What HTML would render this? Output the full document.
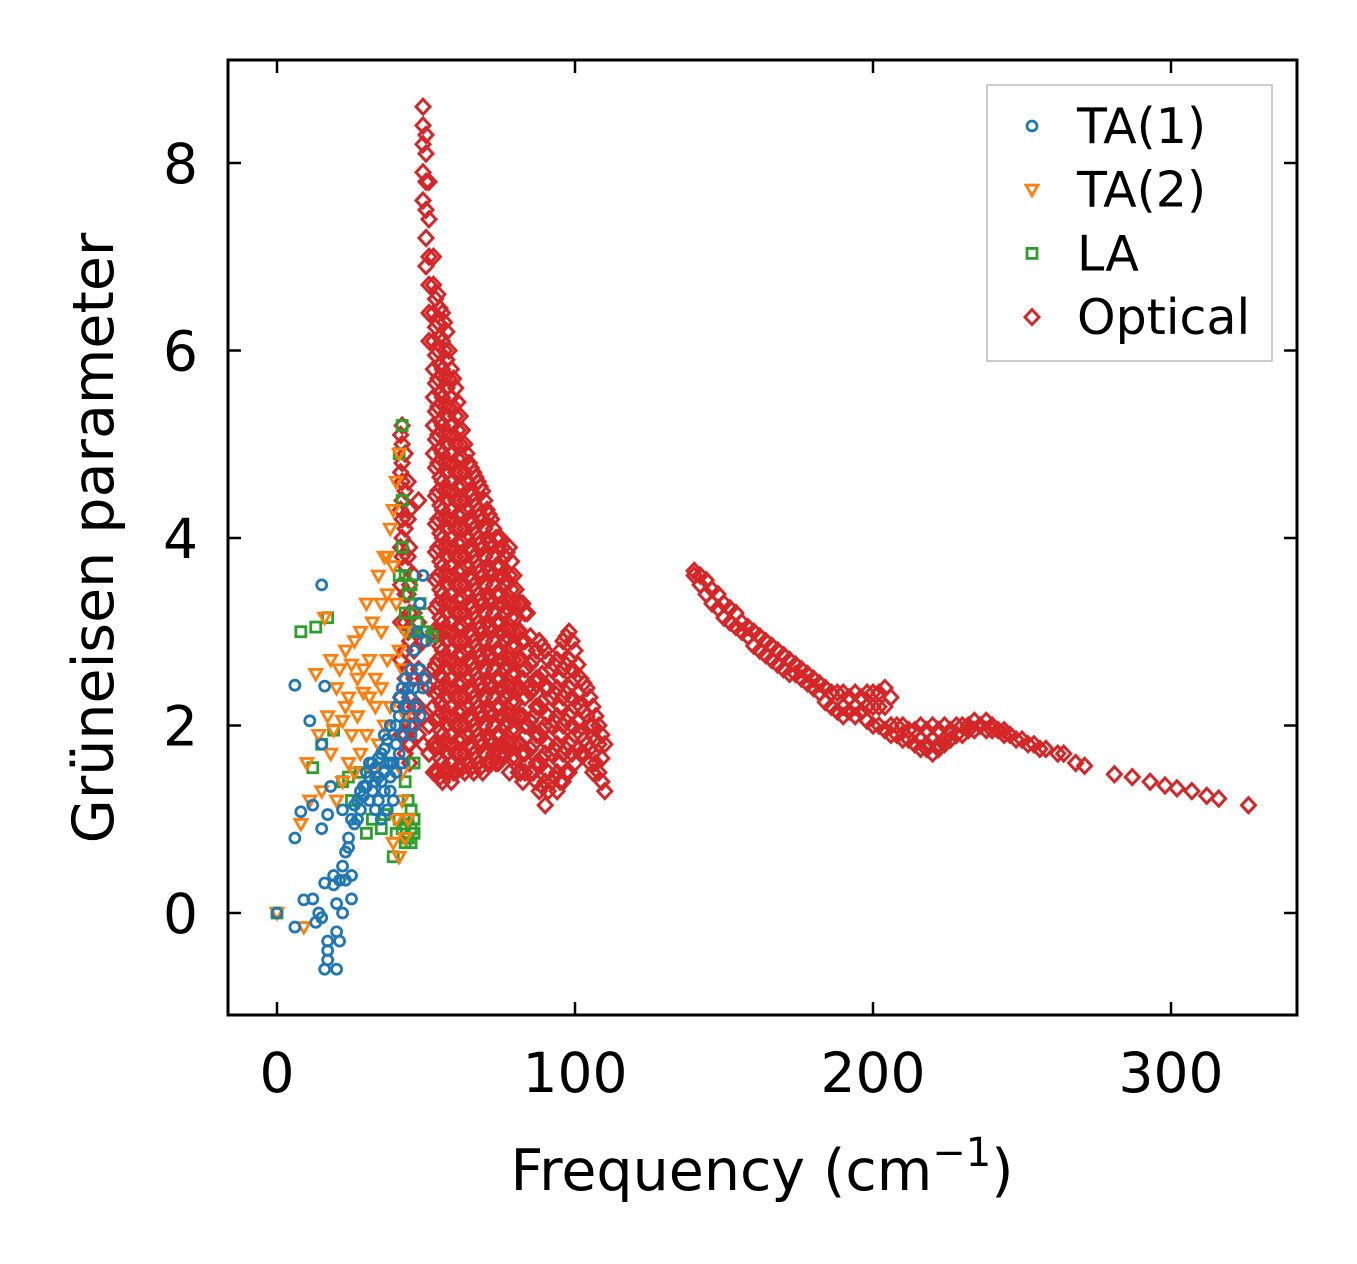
<!DOCTYPE html>
<html><head><meta charset="utf-8"><style>
html,body{margin:0;padding:0;background:#fff;}
svg{display:block;font-family:"DejaVu Sans","Liberation Sans",sans-serif;}
</style></head><body>
<svg id="chart" width="1357" height="1264" viewBox="0 0 1357 1264" xmlns="http://www.w3.org/2000/svg">
<g id="marks"></g>
<g id="axes"></g>
</svg>
<script>
const xTicks = [0, 100, 200, 300];
const yTicks = [0, 2, 4, 6, 8];
const ta1 = [[0,0],[6,-0.15],[6,0.8],[6,2.43],[8,1.08],[9,0.14],[11,2.05],[12,1.15],[12,0.15],[13,-0.1],[14,0],[15,-0.05],[15,3.5],[15,0.9],[15,1.8],[16,2.42],[16,0.32],[16,-0.6],[17,-0.3],[17,-0.4],[17,-0.5],[17,1.05],[18,1.35],[19,0.3],[19,0.4],[20,-0.6],[20,-0.2],[20,0.1],[21,-0.3],[21,0.35],[22,0.5],[22,0.0],[22,1.1],[23,0.65],[23,0.35],[24,0.7],[24,0.8],[25,0.15],[25,0.4],[25,1.0],[26,0.95],[27,1.2],[28,1.3],[29,1.35],[30,1.5],[31,1.2],[32,1.6],[33,1.1],[34,1.45],[35,1.7],[36,1.5],[37,1.85],[38,1.3],[38,2.0],[39,1.6],[40,2.2],[40,1.8],[41,2.1],[42,2.4],[42,1.9],[43,2.5],[44,2.2],[45,2.6],[45,1.9],[46,2.8],[46,2.4],[47,3.0],[47,2.2],[48,3.3],[49,3.6],[48,2.6],[50,2.9],[50,2.5],[35,1.4],[33,1.55],[31,1.45],[29,1.25],[27,1.0],[30,1.35],[32,1.3],[34,1.2],[36,1.3],[37,1.6],[39,1.9],[41,1.7],[43,2.0],[44,2.4],[46,2.0],[38,1.6],[36,1.75],[40,1.5],[42,1.6],[35,1.0],[37,1.1],[39,1.2],[34,1.65],[31,1.6],[28,1.1],[26,1.15],[33,1.4],[41,2.3],[45,2.3],[48,2.1],[49,2.4],[38,1.45],[36,1.9],[40,2.0]];
const ta2 = [[0,0],[8,0.95],[9,-0.15],[10,1.6],[11,1.2],[13,2.55],[14,1.9],[15,1.3],[16,3.15],[17,2.1],[18,2.7],[18,1.7],[19,1.95],[20,2.4],[21,2.6],[22,2.05],[23,2.8],[24,2.3],[25,2.65],[26,2.9],[27,2.5],[28,3.0],[29,2.35],[30,3.3],[31,2.7],[32,3.1],[33,2.5],[34,3.6],[35,3.0],[36,3.8],[37,3.4],[38,4.1],[39,3.7],[40,4.6],[40,3.3],[41,4.9],[41,2.8],[42,2.6],[43,3.0],[38,2.2],[36,2.0],[34,1.8],[32,1.5],[40,1.0],[41,0.6],[39,0.75],[42,1.2],[43,2.1],[37,2.7],[35,2.4],[33,2.2],[30,1.9],[28,1.7],[26,1.5],[24,1.6],[22,1.4],[20,1.2],[39,4.3],[37,3.8],[35,3.3],[31,2.3],[27,2.1],[25,1.9],[23,2.2],[29,2.6],[42,1.5],[44,1.0],[43,0.8]];
const la = [[0,0],[8,3.0],[12,1.55],[13,3.05],[15,1.8],[17,3.15],[19,1.95],[22,1.4],[24,1.45],[25,1.2],[28,1.5],[30,0.85],[32,1.0],[35,0.9],[36,1.05],[39,0.6],[40,0.85],[41,4.9],[42,5.2],[42,4.4],[42,3.9],[43,3.6],[43,3.2],[44,3.4],[45,0.9],[45,1.1],[44,0.8],[43,0.95],[45,3.0],[47,3.1],[48,3.3],[50,3.0],[52,2.95],[46,1.6],[44,1.2],[43,1.4],[41,3.6],[42,0.9],[44,1.0],[45,0.75],[46,0.85],[46,1.0],[43,0.75],[41,1.0],[45,3.5],[46,3.2],[49,3.0]];
const opticalCols = [
[42,[5.2,5.0,4.8,4.6,4.4,4.2,4.0,3.8]],
[43,[4.9,4.5,4.1,3.7,3.4,3.1,2.8,2.5,2.2,1.9,1.7]],
[44.5,[4.3,3.9,3.5,3.2,2.9,2.6,2.3,2.0,1.8,1.6]],
[46,[3.6,3.2,2.8,2.5,2.2,2.0]],
[47.5,[4.4,3.1,2.6,2.2,1.9]],
[49,[8.6,8.4,8.2,7.9,7.6,2.9,2.5,2.1,1.8]],
[50,[8.3,8.1,7.8,7.5,7.2,6.9]],
[51,[7.8,7.4,7.0,6.7,6.4,6.1,2.4,2.0,1.7]],
[52.5,[7.0,6.7,6.4,6.1,5.8,5.5,5.2,4.9,3.0,2.6,2.2,1.8,1.5]],
[54,[6.6,6.3,6.0,5.7,5.4,5.1,4.8,4.5,4.2,3.9,3.6,3.3,3.0,2.7,2.4,2.1,1.8,1.5]],
[55.5,[6.4,6.1,5.8,5.5,5.2,4.9,4.6,4.3,4.0,3.7,3.4,3.1,2.8,2.5,2.2,1.9,1.6,1.4]],
[57,[6.2,5.9,5.6,5.3,5.0,4.7,4.4,4.1,3.8,3.5,3.2,2.9,2.6,2.3,2.0,1.7,1.5]],
[58.5,[5.8,5.5,5.2,4.9,4.6,4.3,4.0,3.7,3.4,3.1,2.8,2.5,2.2,1.9,1.6,1.4]],
[60,[5.6,5.3,5.0,4.7,4.4,4.1,3.8,3.5,3.2,2.9,2.6,2.3,2.0,1.7,1.5]],
[61.5,[5.3,5.0,4.7,4.4,4.1,3.8,3.5,3.2,2.9,2.6,2.3,2.0,1.7]],
[63,[5.0,4.7,4.4,4.1,3.8,3.5,3.2,2.9,2.6,2.3,2.0,1.7,1.5]],
[64.5,[4.8,4.5,4.2,3.9,3.6,3.3,3.0,2.7,2.4,2.1,1.8,1.6]],
[66,[4.7,4.4,4.1,3.8,3.5,3.2,2.9,2.6,2.3,2.0,1.7,1.5]],
[67.5,[4.6,4.3,4.0,3.7,3.4,3.1,2.8,2.5,2.2,1.9,1.6]],
[69,[4.5,4.2,3.9,3.6,3.3,3.0,2.7,2.4,2.1,1.8,1.5]],
[70.5,[4.3,4.0,3.7,3.4,3.1,2.8,2.5,2.2,1.9,1.6]],
[72,[4.2,3.9,3.6,3.3,3.0,2.7,2.4,2.1,1.8,1.6]],
[73.5,[4.0,3.7,3.4,3.1,2.8,2.5,2.2,1.9,1.6]],
[75,[4.0,3.7,3.4,3.1,2.8,2.5,2.2,1.9,1.7]],
[76.5,[3.8,3.5,3.2,2.9,2.6,2.3,2.0,1.7]],
[78,[3.9,3.6,3.3,3.0,2.7,2.4,2.1,1.8,1.5]],
[79.5,[3.6,3.3,3.0,2.7,2.4,2.1,1.8]],
[81,[3.3,3.0,2.7,2.4,2.1,1.8,1.5]],
[82.5,[3.3,2.9,2.5,2.1,1.7,1.4]],
[84,[3.2,2.8,2.4,2.0,1.6]],
[86,[2.7,2.4,2.1,1.8,1.5]],
[88,[2.9,2.5,2.2,1.9,1.6,1.3]],
[90,[2.8,2.4,2.0,1.7,1.4,1.15]],
[92,[2.6,2.3,2.0,1.7,1.4]],
[94,[2.7,2.4,2.1,1.8,1.5,1.3]],
[96,[2.9,2.6,2.3,2.0,1.7,1.4]],
[98,[3.0,2.7,2.4,2.1,1.8,1.5]],
[100,[2.8,2.5,2.2,1.9,1.6]],
[102,[2.5,2.2,1.9,1.7]],
[104,[2.4,2.1,1.8]],
[106,[2.2,2.0,1.7,1.5]],
[108,[2.0,1.8,1.5]],
[110,[1.8,1.3]],
[140,[3.65,3.6]],[142,[3.6,3.5]],[144,[3.55,3.4]],[146,[3.45,3.3]],[148,[3.4,3.25]],[150,[3.3,3.15]],[152,[3.25,3.1]],[154,[3.2,3.05]],[156,[3.1,3.0]],[158,[3.05,2.95]],[160,[3.0,2.85]],[162,[2.95,2.8]],[164,[2.9,2.75]],[166,[2.85,2.7]],[168,[2.8,2.65]],[170,[2.75,2.6]],[172,[2.7,2.55]],[174,[2.65,2.55]],[176,[2.6,2.5]],[178,[2.55,2.45]],[180,[2.5,2.4]],[182,[2.45,2.35]],[184,[2.4,2.25]],[186,[2.35,2.2]],[188,[2.35,2.15]],[190,[2.35,2.2,2.1]],[192,[2.3,2.15]],[194,[2.35,2.2,2.1]],[196,[2.3,2.15]],[198,[2.35,2.2,2.05]],[200,[2.35,2.2,2.0]],[202,[2.35,2.2,2.0]],[204,[2.4,2.2,1.95]],[206,[2.3,2.0,1.9]],[208,[2.0,1.9]],[210,[2.0,1.85]],[212,[1.95,1.85]],[214,[1.95,1.8]],[216,[2.0,1.85,1.75]],[218,[1.95,1.8,1.75]],[220,[2.0,1.85,1.7]],[222,[1.95,1.8,1.75]],[224,[2.0,1.85,1.8]],[226,[1.95,1.85]],[228,[2.0,1.9]],[230,[2.0,1.9]],[232,[2.0,1.95]],[234,[2.05,1.95]],[236,[2.0]],[238,[2.05,1.95]],[240,[2.0,1.95]],[242,[1.95]],[244,[1.95,1.9]],[246,[1.9]],[248,[1.85]],[250,[1.85]],[252,[1.8]],[254,[1.8]],[256,[1.75]],[258,[1.75]],[262,[1.7]],[264,[1.7]],[268,[1.6]],[271,[1.57]],[281,[1.48]],[287,[1.45]],[293,[1.4]],[298,[1.36]],[302,[1.33]],[307,[1.3]],[312,[1.25]],[316,[1.22]],[326,[1.15]]
];
const opticalFill = [
[41.5,[5.1,4.7,4.3,3.9,3.5,3.1,2.7,2.3,1.9]],
[44,[4.6,4.2,3.8,3.4,3.0,2.6,2.2,1.8]],
[53.2,[6.55,6.25,5.95,5.65,5.35,5.05,4.75,4.45,4.15,3.85,3.55,3.25,2.95,2.65,2.35,2.05,1.75,1.5]],
[54.7,[6.45,6.15,5.85,5.55,5.25,4.95,4.65,4.35,4.05,3.75,3.45,3.15,2.85,2.55,2.25,1.95,1.65,1.45]],
[56.2,[6.3,6.0,5.7,5.4,5.1,4.8,4.5,4.2,3.9,3.6,3.3,3.0,2.7,2.4,2.1,1.8,1.5]],
[57.7,[6.0,5.7,5.4,5.1,4.8,4.5,4.2,3.9,3.6,3.3,3.0,2.7,2.4,2.1,1.8,1.5]],
[59.2,[5.7,5.4,5.1,4.8,4.5,4.2,3.9,3.6,3.3,3.0,2.7,2.4,2.1,1.8,1.5]],
[60.7,[5.45,5.15,4.85,4.55,4.25,3.95,3.65,3.35,3.05,2.75,2.45,2.15,1.85,1.55]],
[62.2,[5.15,4.85,4.55,4.25,3.95,3.65,3.35,3.05,2.75,2.45,2.15,1.85,1.55]],
[63.7,[4.9,4.6,4.3,4.0,3.7,3.4,3.1,2.8,2.5,2.2,1.9,1.6]],
[65.2,[4.75,4.45,4.15,3.85,3.55,3.25,2.95,2.65,2.35,2.05,1.75,1.55]],
[66.7,[4.65,4.35,4.05,3.75,3.45,3.15,2.85,2.55,2.25,1.95,1.65]],
[68.2,[4.55,4.25,3.95,3.65,3.35,3.05,2.75,2.45,2.15,1.85,1.55]],
[69.7,[4.4,4.1,3.8,3.5,3.2,2.9,2.6,2.3,2.0,1.7]],
[71.2,[4.25,3.95,3.65,3.35,3.05,2.75,2.45,2.15,1.85,1.6]],
[72.7,[4.1,3.8,3.5,3.2,2.9,2.6,2.3,2.0,1.7]],
[74.2,[4.0,3.7,3.4,3.1,2.8,2.5,2.2,1.9,1.6]],
[75.7,[3.9,3.6,3.3,3.0,2.7,2.4,2.1,1.8,1.65]],
[77.2,[3.85,3.55,3.25,2.95,2.65,2.35,2.05,1.75]],
[78.7,[3.75,3.45,3.15,2.85,2.55,2.25,1.95,1.65]],
[80.2,[3.45,3.15,2.85,2.55,2.25,1.95,1.65]],
[81.7,[3.3,3.0,2.7,2.4,2.1,1.8,1.5]],
[83.2,[3.2,2.9,2.6,2.3,2.0,1.7,1.5]],
[85,[2.95,2.65,2.35,2.05,1.75,1.5]],
[87,[2.8,2.5,2.2,1.9,1.6,1.4]],
[89,[2.85,2.55,2.25,1.95,1.65,1.35]],
[91,[2.7,2.4,2.1,1.8,1.5,1.3]],
[93,[2.65,2.35,2.05,1.75,1.45]],
[95,[2.8,2.5,2.2,1.9,1.6,1.4]],
[97,[2.95,2.65,2.35,2.05,1.75,1.5]],
[99,[2.9,2.6,2.3,2.0,1.7]],
[101,[2.65,2.35,2.05,1.75]],
[103,[2.45,2.15,1.85,1.7]],
[105,[2.3,2.0,1.75,1.6]],
[107,[2.1,1.85,1.6]],
[109,[1.9,1.65,1.4]]
];
const NS='http://www.w3.org/2000/svg';
const L=228,R=1297,T=60,B=1015;
function sx(v){return 277+v*2.98;}
function sy(v){return 913-v*93.75;}
const marks=document.getElementById('marks');
const axes=document.getElementById('axes');
function mk(tag,attrs,parent){const e=document.createElementNS(NS,tag);for(const k in attrs)e.setAttribute(k,attrs[k]);parent.appendChild(e);return e;}
function marker(kind,cx,cy,parent){
  let e;
  if(kind==='circle'){e=mk('circle',{cx:cx,cy:cy,r:5,fill:'none',stroke:'#1f77b4','stroke-width':2.8},parent);}
  else if(kind==='tri'){e=mk('polygon',{points:`${cx-6},${cy-4.5} ${cx+6},${cy-4.5} ${cx},${cy+6}`,fill:'none',stroke:'#ff7f0e','stroke-width':2.8},parent);}
  else if(kind==='sq'){e=mk('rect',{x:cx-5,y:cy-5,width:10,height:10,fill:'none',stroke:'#2ca02c','stroke-width':2.8},parent);}
  else {e=mk('polygon',{points:`${cx},${cy-7.5} ${cx+7},${cy} ${cx},${cy+7.5} ${cx-7},${cy}`,fill:'none',stroke:'#d62728','stroke-width':3},parent);}
  return e;
}
const gO=mk('g',{},marks);


opticalCols.concat(opticalFill).forEach(c=>c[1].forEach(y=>{const e=marker('dia',sx(c[0]),sy(y),gO);

}));
const gL=mk('g',{},marks);


la.forEach(p=>{const e=marker('sq',sx(p[0]),sy(p[1]),gL);

});
const g2=mk('g',{},marks);


ta2.forEach(p=>{const e=marker('tri',sx(p[0]),sy(p[1]),g2);

});
const g1=mk('g',{},marks);


ta1.forEach(p=>{const e=marker('circle',sx(p[0]),sy(p[1]),g1);

});
const fr=mk('rect',{x:L,y:T,width:R-L,height:B-T,fill:'none',stroke:'#000','stroke-width':3},axes);


xTicks.forEach(v=>{const x=sx(v);
 mk('line',{x1:x,y1:B,x2:x,y2:B-13,stroke:'#000','stroke-width':2.5},axes);
 mk('line',{x1:x,y1:T,x2:x,y2:T+13,stroke:'#000','stroke-width':2.5},axes);
 const t=mk('text',{x:x,y:1092,'font-size':55,'text-anchor':'middle'},axes);t.textContent=v;
 
 });
yTicks.forEach(v=>{const y=sy(v);
 mk('line',{x1:L,y1:y,x2:L+13,y2:y,stroke:'#000','stroke-width':2.5},axes);
 mk('line',{x1:R,y1:y,x2:R-13,y2:y,stroke:'#000','stroke-width':2.5},axes);
 const t=mk('text',{x:198,y:y+20,'font-size':55,'text-anchor':'end'},axes);t.textContent=v;
 
 });
const xl=mk('text',{x:762,y:1190,'font-size':57,'text-anchor':'middle'},axes);
xl.innerHTML='Frequency (cm<tspan dy="-24" font-size="40">−1</tspan><tspan dy="24">)</tspan>';


const yl=mk('text',{x:0,y:0,'font-size':57,'text-anchor':'middle',transform:'translate(113,538) rotate(-90)'},axes);
yl.textContent='Grüneisen parameter';


const lg=mk('g',{},axes);


mk('rect',{x:987,y:85,width:285,height:276,fill:'#fff','fill-opacity':0.8,stroke:'#bbb','stroke-width':1.5},lg);
const legNames=['TA(1)','TA(2)','LA','Optical'];
const legKinds=['circle','tri','sq','dia'];
legNames.forEach((n,i)=>{const y=126+i*63.7;
 const m=marker(legKinds[i],1032,y,lg);
 
 
 const t=mk('text',{x:1077,y:y+17,'font-size':49},lg);t.textContent=n;
 
 });
</script>
</body></html>
